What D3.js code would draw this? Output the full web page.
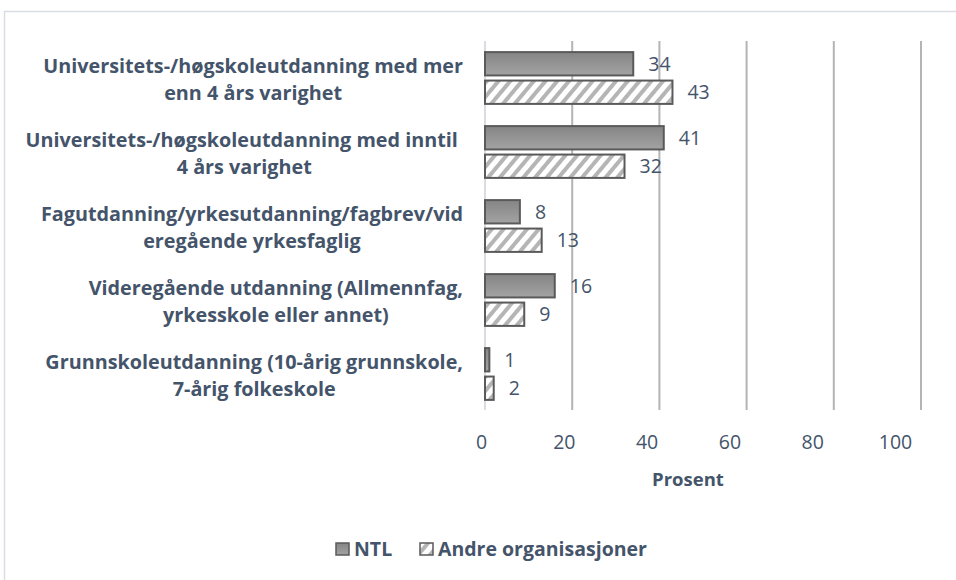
<html>
<head>
<meta charset="utf-8">
<title>utdanning</title>
<style>
  body { margin: 0; background: #fff; }
  text { font-family: "Open Sans", "Noto Sans", sans-serif; fill: #44546a; }
</style>
</head>
<body>
<script src="https://cdnjs.cloudflare.com/ajax/libs/d3/7.8.5/d3.min.js"></script>
<script>
var categories = [
  "Universitets-/høgskoleutdanning med mer\nenn 4 års varighet",
  "Universitets-/høgskoleutdanning med inntil \n4 års varighet",
  "Fagutdanning/yrkesutdanning/fagbrev/vid\neregående yrkesfaglig",
  "Videregående utdanning (Allmennfag,\nyrkesskole eller annet)",
  "Grunnskoleutdanning (10-årig grunnskole,\n7-årig folkeskole"
]
var ntl = [34, 41, 8, 16, 1]
var andre = [43, 32, 13, 9, 2]
var seriesNames = ["NTL", "Andre organisasjoner"]
var xTicks = [0, 20, 40, 60, 80, 100]
var xTitle = "Prosent"

var width = 956, height = 580
var svg = d3.select("body").append("svg")
  .attr("width", width).attr("height", height)

var defs = svg.append("defs")
var grad = defs.append("linearGradient").attr("id", "gNtl")
  .attr("x1", 0).attr("y1", 0).attr("x2", 0).attr("y2", 1)
grad.append("stop").attr("offset", "0%").attr("stop-color", "#858585")
grad.append("stop").attr("offset", "100%").attr("stop-color", "#a3a3a3")

var hatch = defs.append("pattern").attr("id", "hatch")
  .attr("patternUnits", "userSpaceOnUse")
  .attr("width", 9).attr("height", 9)
  .attr("patternTransform", "rotate(40)")
hatch.append("rect").attr("width", 9).attr("height", 9).attr("fill", "#fff")
hatch.append("rect").attr("x", 0).attr("width", 4).attr("height", 9).attr("fill", "#b5b5b5")

// outer frame
svg.append("rect")
  .attr("x", 4.5).attr("y", 11.5)
  .attr("width", 1000).attr("height", 1000)
  .attr("fill", "none").attr("stroke", "#d9dde2").attr("stroke-width", 1.5)

var x = d3.scaleLinear().domain([0, 100]).range([485, 921])
// the tick labels in the picture sit on a slightly shorter run than the gridlines
var xLab = d3.scaleLinear().domain([0, 100]).range([481, 895])
var y = d3.scaleBand().domain(d3.range(categories.length))
  .range([41, 411]).paddingInner(0.3).paddingOuter(0.15)
var ySub = d3.scaleBand().domain([0, 1]).range([0, y.bandwidth()]).paddingInner(0.18)

// gridlines
svg.append("g").selectAll("line")
  .data(xTicks.slice(1))
  .enter().append("line")
  .attr("x1", function(d){ return x(d) }).attr("x2", function(d){ return x(d) })
  .attr("y1", 41).attr("y2", 410)
  .attr("stroke", "#b4b4b4").attr("stroke-width", 2)

svg.append("line")
  .attr("x1", x(0)).attr("x2", x(0)).attr("y1", 41).attr("y2", 410)
  .attr("stroke", "#d9dde2").attr("stroke-width", 2)

// x tick labels
var xAxis = d3.axisBottom(xLab).tickValues(xTicks).tickSize(0).tickPadding(0)
var gx = svg.append("g").attr("transform", "translate(0,435)").call(xAxis)
gx.select(".domain").remove()
gx.selectAll("text")
  .attr("font-size", 19.5).attr("font-family", "'Open Sans', sans-serif")
  .attr("fill", "#44546a")

svg.append("text")
  .attr("x", xLab(50)).attr("y", 486)
  .attr("text-anchor", "middle")
  .attr("font-size", 18.5).attr("font-weight", "bold")
  .text(xTitle)

// bars
var series = [ntl, andre]
var fills = ["url(#gNtl)", "url(#hatch)"]
series.forEach(function(vals, s){
  svg.append("g").selectAll("rect")
    .data(vals)
    .enter().append("rect")
    .attr("x", x(0))
    .attr("y", function(d, i){ return y(i) + ySub(s) })
    .attr("width", function(d){ return x(d) - x(0) })
    .attr("height", ySub.bandwidth())
    .attr("fill", fills[s])
    .attr("stroke", "#5a5a5a").attr("stroke-width", 2)

  svg.append("g").selectAll("text")
    .data(vals)
    .enter().append("text")
    .attr("x", function(d){ return x(d) + 15 })
    .attr("y", function(d, i){ return y(i) + ySub(s) + ySub.bandwidth() / 2 })
    .attr("dy", "0.35em")
    .attr("font-size", 19.5)
    .text(function(d){ return d })
})

// category labels, centered block, right edge at 463
var labRight = 463
categories.forEach(function(c, i){
  var lines = c.split("\n")
  var g = svg.append("g")
  var cy = y(i) + y.bandwidth() / 2
  var ts = lines.map(function(l, k){
    return g.append("text")
      .attr("y", cy + (k - (lines.length - 1) / 2) * 27 + 8)
      .attr("font-size", 19.8).attr("font-weight", "bold")
      .attr("text-anchor", "middle")
      .style("white-space", "pre")
      .text(l)
  })
  var w = d3.max(ts, function(t){ return t.node().getComputedTextLength() })
  ts.forEach(function(t){ t.attr("x", labRight - w / 2) })
})

// legend
var legX = [336, 420]
seriesNames.forEach(function(n, s){
  svg.append("rect")
    .attr("x", legX[s]).attr("y", 543).attr("width", 13).attr("height", 12)
    .attr("fill", fills[s]).attr("stroke", "#5a5a5a").attr("stroke-width", 1.5)
  svg.append("text")
    .attr("x", legX[s] + 18).attr("y", 556)
    .attr("font-size", 19.5).attr("font-weight", "bold")
    .text(n)
})
</script>
</body>
</html>
